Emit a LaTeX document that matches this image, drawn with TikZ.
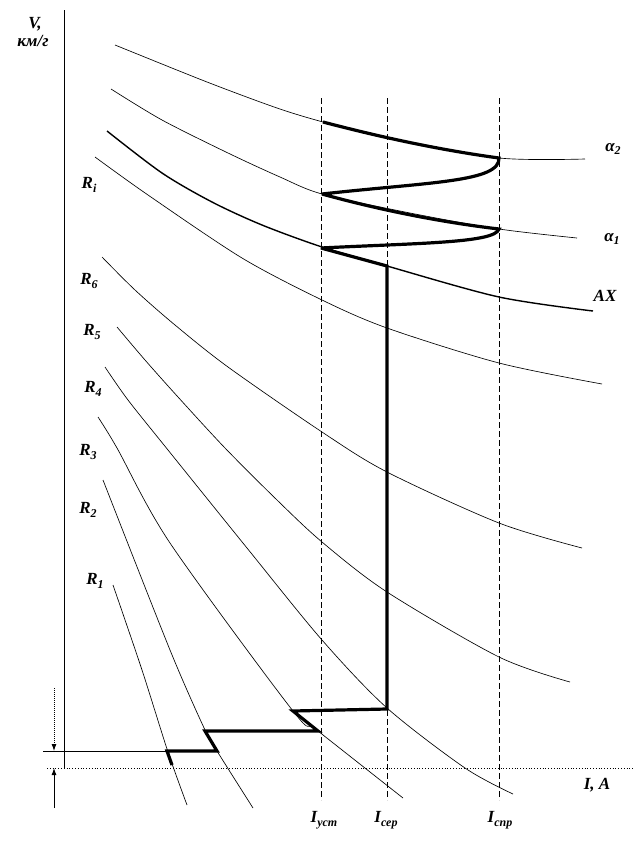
\documentclass[tikz,border=0pt]{standalone}
\usepackage{fontspec}
\setmainfont{Liberation Serif}
\usetikzlibrary{arrows.meta}
\newcommand\lowidx[1]{\raisebox{-.45ex}{\fontsize{12}{12}\selectfont#1}}

\begin{document}
\begin{tikzpicture}[x=1pt,y=-1pt,>={Latex[length=7pt,width=5pt]},
  curve/.style={line width=.65pt},
  run/.style={line width=3.2pt,miter limit=4},
  guide/.style={dash pattern=on 6pt off 3pt,line width=.7pt},
  lbl/.style={font=\fontsize{17}{20}\selectfont\bfseries\itshape,inner sep=0pt}]
\useasboundingbox (0,0) rectangle (644,855);

% axes
\draw[line width=.9pt] (64,10) -- (64,768);
\draw[dotted,line width=.8pt] (47,768) -- (634,768);
\draw[line width=.8pt] (43,751) -- (170,751);
\draw[line width=.9pt,dash pattern=on 1pt off 1pt,->] (54,688) -- (54,751);
\draw[line width=.9pt,->] (54,808) -- (54,768);

% current levels
\draw[guide] (321,98) -- (321,800);
\draw[guide] (387,98) -- (387,800);
\draw[guide] (499,98) -- (499,800);

% characteristics
\draw[curve] plot[smooth] coordinates {(113,585) (142,670) (168,752) (187,805)};
\draw[curve] plot[smooth] coordinates {(103,480) (170,650) (205,730) (217,751) (253,808)};
\draw[curve] plot[smooth] coordinates {(98,417) (117,448) (170,543) (293,711) (318,731) (403,798)};
\draw[curve] plot[smooth] coordinates {(105,367) (128,400) (168,450) (247,548) (322,640) (387,708) (465,768) (513,794)};
\draw[curve] plot[smooth] coordinates {(117,327) (145,360) (178,397) (225,448) (277,500) (322,542) (387,592) (499,657) (570,682)};
\draw[curve] plot[smooth] coordinates {(102,257) (135,290) (175,325) (228,367) (322,432) (387,472) (499,523) (582,548)};
\draw[curve] plot[smooth] coordinates {(95,157) (148,195) (242,258) (322,300) (387,328) (499,363) (602,384)};
\draw[line width=1.4pt] plot[smooth] coordinates {(107,131) (162,173) (212,202) (262,225) (322,247) (387,266) (499,297) (593,311)};
\draw[curve] plot[smooth] coordinates {(111,89) (162,120) (228,153) (280,177) (322,194) (410,213) (499,229) (577,238)};
\draw[curve] plot[smooth] coordinates {(115,45) (207,82) (277,108) (323,122) (390,139) (499,158) (585,159)};

% start-up path
\draw[run] (172,765) -- (167,751) -- (217,751) -- (205,731) -- (318,731) -- (293,711)
  -- (387,709) -- (387,266) -- (321,248)
  .. controls (420,243) and (495,243) .. (499,229)
  .. controls (440,222) and (380,210) .. (322,194)
  .. controls (430,182) and (500,182) .. (499,158)
  .. controls (440,150) and (380,137) .. (323,122);

% labels
\node[lbl] (v) at (35,24) {V,};
\node[lbl] (vu) at (33,41) {км/г};
\node[lbl] (ri) at (89,185) {R\lowidx{i}};
\node[lbl] (r6) at (89,281) {R\lowidx{6}};
\node[lbl] (r5) at (92,332) {R\lowidx{5}};
\node[lbl] (r4) at (93,389) {R\lowidx{4}};
\node[lbl] (r3) at (88,452) {R\lowidx{3}};
\node[lbl] (r2) at (88,510) {R\lowidx{2}};
\node[lbl] (r1) at (95,581) {R\lowidx{1}};
\node[lbl] (a2) at (613,149) {α\lowidx{2}};
\node[lbl] (a1) at (612,239) {α\lowidx{1}};
\node[lbl] (ax) at (605,296) {AX};
\node[lbl] (ia) at (597,785) {I, A};
\node[lbl] (iu) at (324,820) {I\lowidx{уст}};
\node[lbl] (is) at (386,820) {I\lowidx{сер}};
\node[lbl] (ip) at (500,820) {I\lowidx{спр}};
\end{tikzpicture}
\end{document}
